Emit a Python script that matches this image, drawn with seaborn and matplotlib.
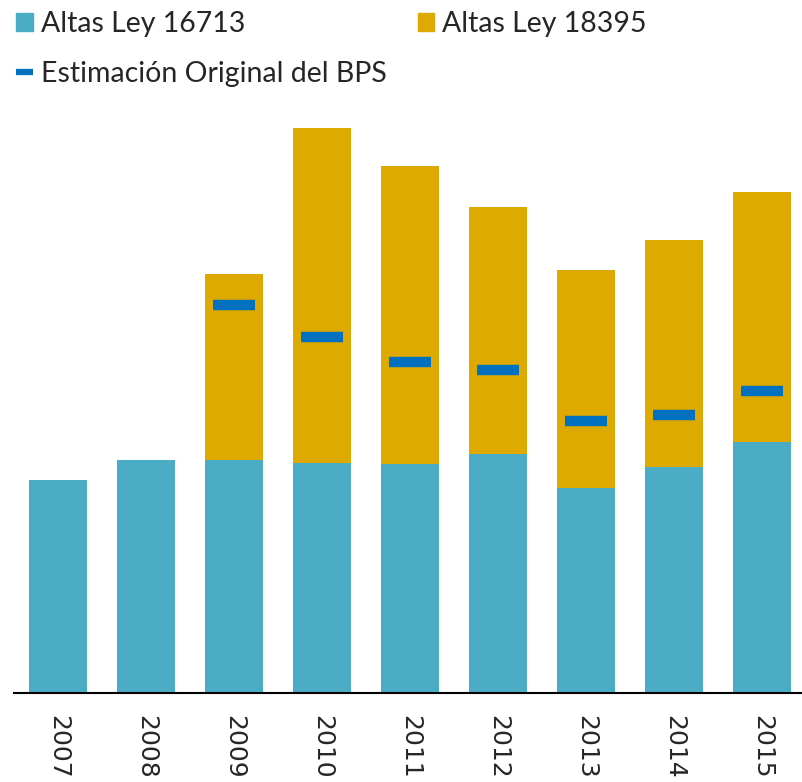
import matplotlib
matplotlib.use("Agg")
import matplotlib.pyplot as plt
import matplotlib.patches as mpatches
import matplotlib.lines as mlines
import seaborn as sns
import pandas as pd

# values (arbitrary units, no y axis shown)
years = ["2007", "2008", "2009", "2010", "2011", "2012", "2013", "2014", "2015"]
ley_16713 = [213, 233, 233, 230, 229, 239, 205, 226, 251]
ley_18395 = [0, 0, 186, 335, 298, 247, 218, 227, 250]
est_years = ["2009", "2010", "2011", "2012", "2013", "2014", "2015"]
est_bps = [388, 356, 331, 323, 272, 278, 302]

c_teal = "#4BACC6"
c_gold = "#DEA900"
c_blue = "#0070C0"

df = pd.DataFrame({"year": years, "a": ley_16713, "b": ley_18395})
df["total"] = df["a"] + df["b"]

sns.set_theme(style="white")
plt.rcParams["font.family"] = ["DejaVu Sans"]

fig = plt.figure(figsize=(8.02, 7.82), dpi=100)
ax = fig.add_axes([14 / 802, 89 / 782, 788 / 802, 600 / 782])

# stacked bars: total in gold, then the 16713 part on top of it
sns.barplot(data=df, x="year", y="total", color=c_gold, width=0.66,
            saturation=1, linewidth=0, ax=ax)
sns.barplot(data=df, x="year", y="a", color=c_teal, width=0.66,
            saturation=1, linewidth=0, ax=ax)

# original BPS estimate as short thick dashes
pos = [years.index(y) for y in est_years]
ax.plot(pos, est_bps, linestyle="none", marker="_", markersize=30,
        markeredgewidth=7.5, color=c_blue)

ax.set_xlim(-0.5, 8.455)
ax.set_ylim(0, 600)
ax.set_xlabel("")
ax.set_ylabel("")
ax.set_yticks([])
for s in ["top", "right", "left"]:
    ax.spines[s].set_visible(False)
ax.spines["bottom"].set_color("black")
ax.spines["bottom"].set_linewidth(1.5)
ax.tick_params(axis="x", length=0, pad=16, labelsize=18, labelrotation=-90)
for t in ax.get_xticklabels():
    t.set_va("top")

handles = [
    mpatches.Patch(color=c_teal, label="Altas Ley 16713"),
    mlines.Line2D([], [], color=c_blue, linewidth=4.5, solid_capstyle="butt",
                  label="Estimación Original del BPS"),
    mpatches.Patch(color=c_gold, label="Altas Ley 18395"),
]
fig.legend(handles=handles, loc="upper left", bbox_to_anchor=(0.02, 0.986),
           ncol=2, frameon=False, prop={"family": "Lato", "size": 20.5},
           handlelength=0.58, handleheight=0.6, handletextpad=0.28,
           labelspacing=0.83, columnspacing=1.1, borderpad=0, borderaxespad=0)

fig.savefig("out.png", dpi=100)
